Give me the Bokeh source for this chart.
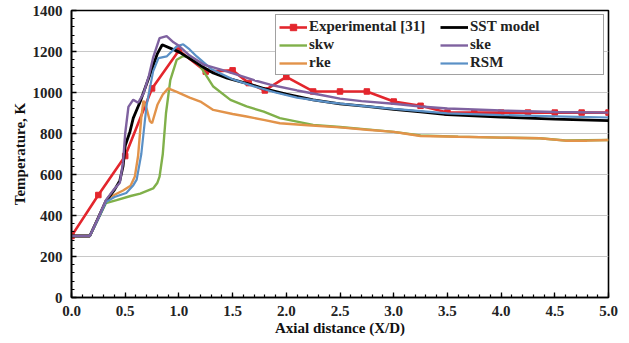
from bokeh.plotting import figure
from bokeh.models import (Legend, LegendItem, Range1d, SingleIntervalTicker,
                          PrintfTickFormatter)
from bokeh.embed import file_html
from bokeh.resources import INLINE

# ---------------- data ----------------
exp_x = [0, 0.25, 0.5, 0.75, 1.0, 1.25, 1.5, 1.65, 1.8, 2.0, 2.25, 2.5, 2.75,
         3.0, 3.25, 3.5, 3.75, 4.0, 4.25, 4.5, 4.75, 5.0]
exp_T = [300, 500, 690, 1020, 1205, 1102, 1108, 1046, 1010, 1076, 1005, 1005,
         1005, 956, 935, 902, 902, 902, 902, 902, 902, 902]

sst_x = [0, 0.17, 0.25, 0.32, 0.4, 0.45, 0.48, 0.5, 0.545, 0.575, 0.64, 0.73,
         0.8, 0.845, 0.95, 1.0, 1.1, 1.2, 1.32, 1.45, 1.63, 1.8, 2.0, 2.25,
         2.5, 2.75, 3.0, 3.25, 3.5, 4.0, 4.5, 5.0]
sst_T = [300, 300, 390, 470, 525, 570, 640, 740, 810, 875, 956, 1087,
         1190, 1233, 1209, 1198, 1165, 1132, 1095, 1070, 1045, 1018, 992, 964,
         945, 932, 918, 905, 892, 880, 870, 863]

skw_x = [0, 0.17, 0.25, 0.32, 0.42, 0.55, 0.64, 0.76, 0.8, 0.82, 0.85, 0.88,
         0.92, 0.98, 1.04, 1.13, 1.2, 1.32, 1.48, 1.63, 1.79, 1.94, 2.1, 2.25,
         2.5, 2.75, 3.0, 3.25, 3.6, 4.0, 4.36, 4.6, 5.0]
skw_T = [300, 300, 385, 460, 475, 495, 507, 532, 560, 590, 700, 900,
         1060, 1160, 1178, 1168, 1127, 1029, 964, 932, 907, 875, 858, 842,
         832, 820, 808, 790, 785, 780, 777, 766, 768]

ske_x = [0, 0.17, 0.25, 0.32, 0.4, 0.45, 0.48, 0.5, 0.53, 0.575, 0.62, 0.67,
         0.72, 0.76, 0.82, 0.886, 0.95, 1.0, 1.1, 1.23, 1.4, 1.54, 1.7, 1.85,
         2.1, 2.3, 2.5, 2.7, 3.0, 3.25, 3.5, 4.0, 4.5, 5.0]
ske_T = [300, 300, 390, 475, 530, 560, 660, 800, 930, 965, 950, 995,
         1080, 1170, 1265, 1275, 1245, 1228, 1180, 1136, 1110, 1087, 1060, 1038,
         1010, 990, 970, 958, 945, 932, 922, 912, 905, 902]

rke_x = [0, 0.17, 0.25, 0.32, 0.36, 0.48, 0.55, 0.59, 0.62, 0.65, 0.67, 0.7,
         0.73, 0.75, 0.8, 0.85, 0.9, 0.98, 1.1, 1.2, 1.32, 1.5, 1.63, 1.8,
         1.94, 2.2, 2.5, 2.75, 3.0, 3.1, 3.25, 3.6, 4.0, 4.36, 4.6, 4.8, 5.0]
rke_T = [300, 300, 390, 470, 490, 522, 545, 590, 690, 880, 960, 920,
         860, 850, 940, 990, 1020, 1003, 975, 956, 915, 895, 883, 865,
         850, 840, 830, 818, 808, 800, 788, 784, 780, 777, 765, 765, 768]

rsm_x = [0, 0.17, 0.25, 0.32, 0.4, 0.51, 0.576, 0.607, 0.65, 0.684, 0.7, 0.76,
         0.81, 0.886, 0.98, 1.04, 1.1, 1.166, 1.3, 1.5, 1.7, 1.9, 2.1, 2.4,
         2.7, 3.0, 3.5, 4.0, 4.5, 5.0]
rsm_T = [300, 300, 385, 465, 490, 510, 548, 575, 700, 866, 940, 1103,
         1168, 1176, 1225, 1235, 1210, 1176, 1115, 1065, 1030, 1000, 975, 952,
         935, 920, 898, 890, 884, 878]

x_ticks_interval = 0.5
y_ticks_interval = 200

FONT = "Liberation Serif"

p = figure(width=629, height=343, output_backend="svg", toolbar_location=None,
           x_range=Range1d(0, 5), y_range=Range1d(0, 1400),
           min_border_left=71, min_border_right=21, min_border_top=10,
           min_border_bottom=46)

# colours
C_RED = "#e3262d"
C_BLACK = "#000000"
C_GREEN = "#80b04a"
C_PURPLE = "#7f62a0"
C_ORANGE = "#e2934a"
C_BLUE = "#5a90c6"

r_exp_l = p.line(exp_x, exp_T, line_color=C_RED, line_width=2.6)
r_exp_m = p.scatter(exp_x, exp_T, marker="square", size=5.5, fill_color=C_RED,
                    line_color=C_RED)
r_skw = p.line(skw_x, skw_T, line_color=C_GREEN, line_width=2.4)
r_rke = p.line(rke_x, rke_T, line_color=C_ORANGE, line_width=2.4)
r_sst = p.line(sst_x, sst_T, line_color=C_BLACK, line_width=2.8)
r_rsm = p.line(rsm_x, rsm_T, line_color=C_BLUE, line_width=2.2)
r_ske = p.line(ske_x, ske_T, line_color=C_PURPLE, line_width=2.4)

# axes
for ax in (p.xaxis[0], p.yaxis[0]):
    ax.axis_line_color = "black"
    ax.axis_line_width = 1.6
    ax.major_tick_in = 5
    ax.major_tick_out = 0
    ax.minor_tick_in = 3
    ax.minor_tick_out = 0
    ax.major_tick_line_color = "black"
    ax.minor_tick_line_color = "black"
    ax.major_tick_line_width = 1.3
    ax.minor_tick_line_width = 1.2
    ax.major_label_text_font = FONT
    ax.major_label_text_font_style = "bold"
    ax.major_label_text_font_size = "15px"
    ax.major_label_text_color = "#222222"
    ax.axis_label_text_font = FONT
    ax.axis_label_text_font_style = "bold"
    ax.axis_label_text_font_size = "15px"
    ax.axis_label_text_color = "#111111"

p.xaxis.ticker = SingleIntervalTicker(interval=x_ticks_interval, num_minor_ticks=5)
p.yaxis.ticker = SingleIntervalTicker(interval=y_ticks_interval, num_minor_ticks=5)
p.xaxis.formatter = PrintfTickFormatter(format="%.1f")
p.xaxis.axis_label = "Axial distance (X/D)"
p.yaxis.axis_label = "Temperature, K"
p.xaxis.major_label_standoff = 8
p.xaxis.axis_label_standoff = 1
p.yaxis.major_label_standoff = 9
p.yaxis.axis_label_standoff = 2

p.xgrid.grid_line_color = None
p.ygrid.grid_line_color = "#c8c8c8"
p.ygrid.grid_line_width = 1
p.ygrid.ticker = SingleIntervalTicker(interval=y_ticks_interval)

p.outline_line_color = "black"
p.outline_line_width = 1.6
p.background_fill_color = "white"
p.border_fill_color = "white"

# Bokeh fills legend columns first, so list column 1 then column 2
legend = Legend(items=[
    LegendItem(label="Experimental [31]", renderers=[r_exp_l, r_exp_m]),
    LegendItem(label="skw", renderers=[r_skw]),
    LegendItem(label="rke", renderers=[r_rke]),
    LegendItem(label="SST model", renderers=[r_sst]),
    LegendItem(label="ske", renderers=[r_ske]),
    LegendItem(label="RSM", renderers=[r_rsm]),
], ncols=2, location="top_right")
legend.margin = 4
legend.padding = 3
legend.spacing = 1
legend.glyph_width = 28
legend.glyph_height = 16
legend.label_height = 16
legend.label_width = 130
legend.label_standoff = 2
legend.label_text_font = FONT
legend.label_text_font_style = "bold"
legend.label_text_font_size = "15px"
legend.label_text_color = "#222222"
legend.border_line_color = "#444444"
legend.border_line_width = 1
legend.background_fill_color = "white"
legend.background_fill_alpha = 1
p.add_layout(legend)

open("out.html", "w").write(file_html(p, INLINE))
